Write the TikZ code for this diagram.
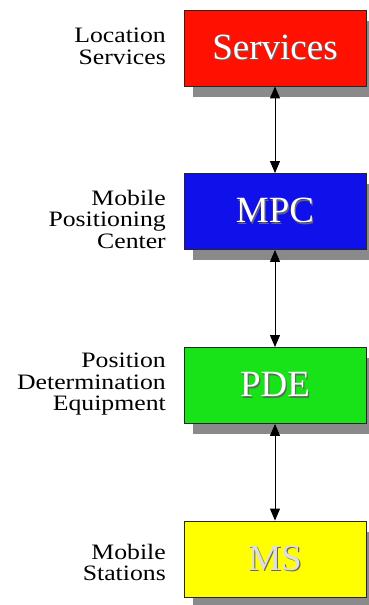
\documentclass[tikz,border=0pt]{standalone}
\usepackage{fontspec}
\setmainfont{Liberation Serif}
\newfontfamily\labelfont[FakeStretch=1.17]{Liberation Serif}
\usetikzlibrary{arrows.meta,shadows}

\definecolor{svcred}{RGB}{255,16,0}
\definecolor{mpcblue}{RGB}{16,16,235}
\definecolor{pdegreen}{RGB}{24,226,24}
\definecolor{msyellow}{RGB}{255,255,0}
\definecolor{shadowgray}{RGB}{138,138,138}

% white lettering with a thin dark shadow
\newcommand{\boxtext}[2][white]{\makebox[0pt][l]{\kern1.2pt\raisebox{-1.2pt}{\textcolor{gray!80!black}{#2}}}\textcolor{#1}{#2}}

\tikzset{
  layerbox/.style={draw=black!85, line width=0.9pt, rectangle,
    minimum width=182pt, minimum height=76pt, inner sep=0pt,
    font=\rmfamily\fontsize{37}{40}\selectfont,
    drop shadow={shadow xshift=9pt, shadow yshift=-10.5pt, fill=shadowgray, opacity=1}},
  sidelabel/.style={anchor=north east, align=right, inner sep=0pt,
    font=\labelfont\fontsize{22}{21.5}\selectfont},
  link/.style={line width=1pt, {Triangle[length=12pt,width=10pt]}-{Triangle[length=12pt,width=10pt]}}
}

\begin{document}
\begin{tikzpicture}[x=1pt,y=-1pt]
  \useasboundingbox (0,0) rectangle (369,605);

  % protocol layers
  \node[layerbox, fill=svcred]   (svc) at (275,48)    {\boxtext{Services}};
  \node[layerbox, fill=mpcblue]  (mpc) at (275,211.5) {\boxtext{MPC}};
  \node[layerbox, fill=pdegreen] (pde) at (275,385.5) {\boxtext{PDE}};
  \node[layerbox, fill=msyellow] (ms)  at (275,559)   {\boxtext[gray!25]{MS}};

  % descriptions on the left (top of first capital)
  \node[sidelabel] (lsvc) at (166,28)  {Location\\Services};
  \node[sidelabel] (lmpc) at (166,190) {Mobile\\Positioning\\Center};
  \node[sidelabel] (lpde) at (166,353) {Position\\Determination\\Equipment};
  \node[sidelabel] (lms)  at (166,544) {Mobile\\Stations};

  % links between layers
  \draw[link] (svc.south) -- (mpc.north);
  \draw[link] (mpc.south) -- (pde.north);
  \draw[link] (pde.south) -- (ms.north);
\end{tikzpicture}
\end{document}
